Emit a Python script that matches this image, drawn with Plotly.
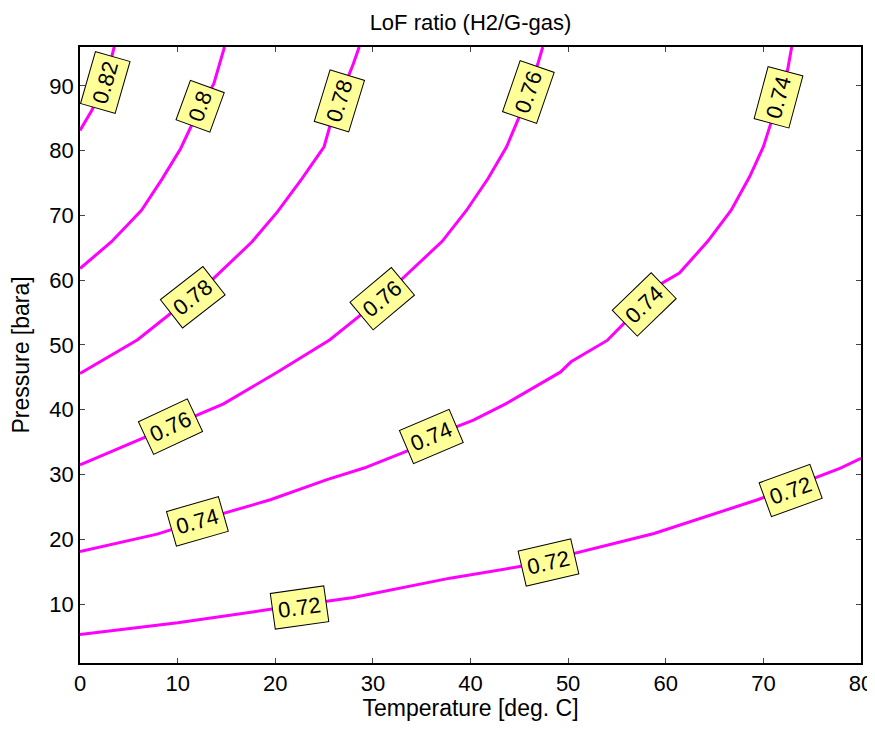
import plotly.graph_objects as go

# Contour lines (Temperature [deg C], Pressure [bara])
c072_T = [0, 10, 20, 28, 37.9, 45.5, 58.8, 69.4, 77.9, 80]
c072_P = [5.3, 7.1, 9.3, 11.0, 14.0, 15.9, 20.9, 26.1, 31.0, 32.5]

c074_T = [0, 7.9, 14.7, 19.5, 25.3, 29.1, 33.8, 38.6, 40.3, 43.6, 49.2, 50.3, 54.0, 55.7,
          59.7, 61.4, 64.3, 66.7, 68.6, 70.0, 70.8, 72.5, 72.9]
c074_P = [18.1, 20.8, 24.0, 26.1, 29.2, 31.0, 33.8, 37.4, 38.4, 40.9, 45.8, 47.4, 50.7, 53.3,
          59.6, 61.1, 66.0, 70.8, 76.0, 80.6, 84.4, 92.6, 96.0]

c076_T = [0, 9.2, 12.0, 14.7, 20.2, 25.6, 30.8, 33.5, 37.1, 39.6, 41.8, 43.7, 44.9, 45.9, 46.9, 47.4]
c076_P = [31.5, 37.4, 39.2, 40.9, 45.8, 50.8, 57.1, 60.9, 66.0, 70.8, 75.7, 80.6, 84.9, 89.0, 93.4, 96.0]

c078_T = [0, 5.9, 11.4, 13.5, 17.6, 20.2, 22.7, 25.0, 25.6, 26.5, 28.0, 28.6]
c078_P = [45.6, 50.8, 57.4, 60.0, 65.9, 70.5, 75.6, 80.6, 83.8, 87.7, 93.4, 96.0]

c080_T = [0, 3.2, 6.3, 8.4, 10.3, 11.5, 12.3, 13.7, 14.8]
c080_P = [61.8, 65.9, 70.8, 75.6, 80.3, 84.1, 86.7, 90.3, 96.0]

c082_T = [0, 1.2, 2.6, 3.5]
c082_P = [83.1, 86.2, 90.5, 96.0]

# Contour labels
lbl_text = ["0.82", "0.8", "0.78", "0.76", "0.74", "0.78", "0.76", "0.74",
            "0.76", "0.74", "0.74", "0.72", "0.72", "0.72"]
lbl_T = [2.6, 12.3, 26.6, 45.9, 71.6, 11.5, 31.0, 57.8, 9.3, 36.0, 12.0, 72.8, 48.0, 22.5]
lbl_P = [90.5, 86.8, 87.7, 89.0, 88.3, 57.4, 57.1, 56.2, 37.4, 35.8, 22.7, 27.6, 16.4, 9.5]
lbl_angle = [-74, -70, -73, -71, -75, -38, -40, -44, -25, -23, -16, -20, -13, -8]

x_ticks = [0, 10, 20, 30, 40, 50, 60, 70, 80]
y_ticks = [10, 20, 30, 40, 50, 60, 70, 80, 90]

FONT = "Liberation Sans, Arial, Helvetica, sans-serif"
MAGENTA = "#ff00ff"

fig = go.Figure()
for T, P in [(c072_T, c072_P), (c074_T, c074_P), (c076_T, c076_P),
             (c078_T, c078_P), (c080_T, c080_P), (c082_T, c082_P)]:
    fig.add_trace(go.Scatter(x=T, y=P, mode="lines",
                             line=dict(color=MAGENTA, width=3),
                             showlegend=False, hoverinfo="skip"))

for txt, t, p, a in zip(lbl_text, lbl_T, lbl_P, lbl_angle):
    fig.add_annotation(x=t, y=p, text=txt, showarrow=False, textangle=a,
                       font=dict(family=FONT, size=22, color="black"),
                       bgcolor="#ffff99", bordercolor="black", borderwidth=1,
                       borderpad=5, xanchor="center", yanchor="middle")

# page body has an 8px margin, so the figure sits at (8, 8); keep the page within the window
fig.update_layout(
    width=867, height=713,
    margin=dict(l=72, r=14, t=39, b=58),
    paper_bgcolor="white", plot_bgcolor="white",
    font=dict(family=FONT, size=22, color="black"),
    title=dict(text="LoF ratio (H2/G-gas)", xref="paper", x=0.5, xanchor="center",
               y=1 - 14 / 713, yanchor="middle",
               font=dict(family=FONT, size=22, color="black")),
    showlegend=False,
)
fig.update_xaxes(range=[0, 80], tickvals=x_ticks, ticks="inside", ticklen=5,
                 showline=True, linecolor="black", linewidth=1.5, mirror="ticks",
                 showgrid=False, zeroline=False, automargin=False,
                 tickfont=dict(family=FONT, size=22, color="black"),
                 title=dict(text="Temperature [deg. C]", standoff=3,
                            font=dict(family=FONT, size=23, color="black")))
fig.update_yaxes(range=[0.9, 96], tickvals=y_ticks, ticks="inside", ticklen=5,
                 showline=True, linecolor="black", linewidth=1.5, mirror="ticks",
                 showgrid=False, zeroline=False, automargin=False,
                 tickfont=dict(family=FONT, size=22, color="black"),
                 title=dict(text="Pressure [bara]", standoff=13,
                            font=dict(family=FONT, size=23, color="black")))

fig.write_html("out.html")
